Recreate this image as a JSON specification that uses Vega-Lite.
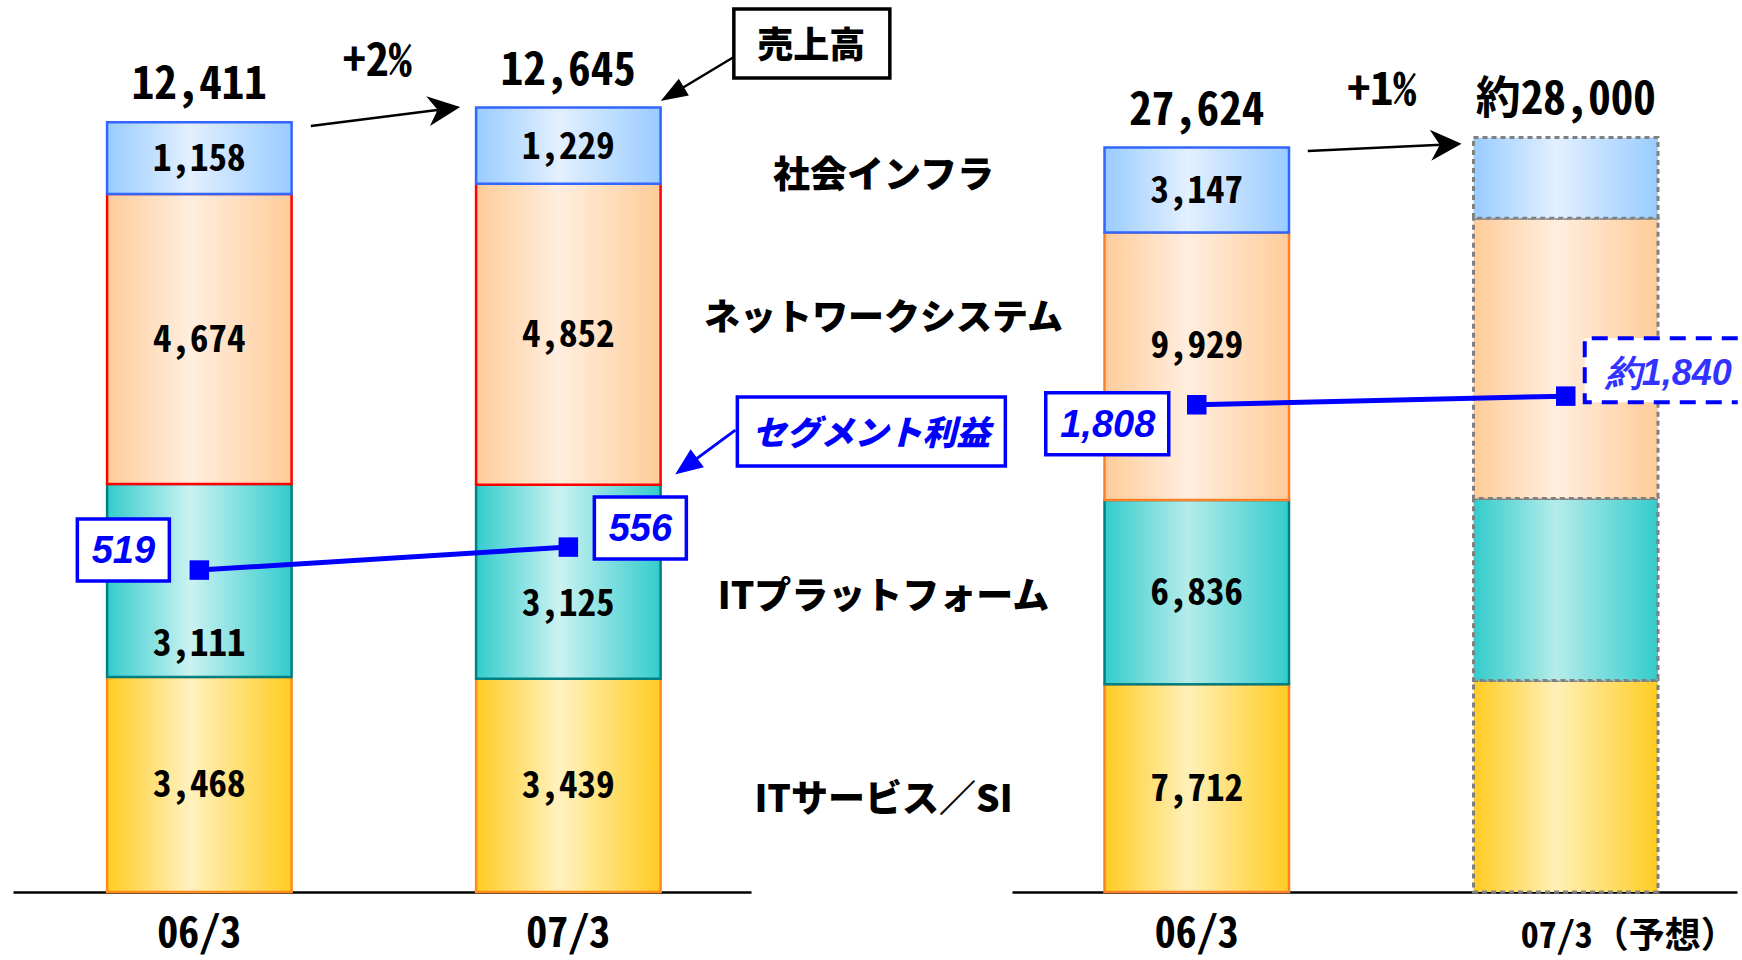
{
  "$schema": "https://vega.github.io/schema/vega-lite/v6.json",
  "background": "#ffffff",
  "padding": {"left": 13, "top": 0, "right": 0, "bottom": 5},
  "spacing": 0,
  "bounds": "flush",
  "config": {
    "view": {"stroke": null},
    "axisX": {
      "domainColor": "#000000",
      "domainWidth": 2.5,
      "ticks": false,
      "tickSize": 0,
      "grid": false,
      "labelAngle": 0,
      "labelFont": "Noto Sans Mono CJK JP, Noto Sans CJK JP, sans-serif",
      "labelFontSize": 42,
      "labelFontWeight": "bold",
      "labelColor": "#000000",
      "labelPadding": 63,
      "labelBaseline": "bottom",
      "labelOverlap": false,
      "labelLimit": 0
    }
  },
  "datasets": {
    "sales_h": [
      {"period": "06/3", "seg": "ITサービス／SI", "value": 3468},
      {"period": "06/3", "seg": "ITプラットフォーム", "value": 3111},
      {"period": "06/3", "seg": "ネットワークシステム", "value": 4674},
      {"period": "06/3", "seg": "社会インフラ", "value": 1158},
      {"period": "07/3", "seg": "ITサービス／SI", "value": 3439},
      {"period": "07/3", "seg": "ITプラットフォーム", "value": 3125},
      {"period": "07/3", "seg": "ネットワークシステム", "value": 4852},
      {"period": "07/3", "seg": "社会インフラ", "value": 1229}
    ],
    "total_h": [
      {"period": "06/3", "total": 12411, "label": "12,411", "growth": "+2%"},
      {"period": "07/3", "total": 12645, "label": "12,645", "callout": "売上高"}
    ],
    "profit_h": [
      {"period": "06/3", "profit": 519, "label": "519"},
      {"period": "07/3", "profit": 556, "label": "556", "callout": "セグメント利益"}
    ],
    "sales_y": [
      {"period": "06/3", "seg": "ITサービス／SI", "value": 7712},
      {"period": "06/3", "seg": "ITプラットフォーム", "value": 6836},
      {"period": "06/3", "seg": "ネットワークシステム", "value": 9929},
      {"period": "06/3", "seg": "社会インフラ", "value": 3147},
      {"period": "07/3（予想）", "seg": "ITサービス／SI", "value": 7850},
      {"period": "07/3（予想）", "seg": "ITプラットフォーム", "value": 6750},
      {"period": "07/3（予想）", "seg": "ネットワークシステム", "value": 10400},
      {"period": "07/3（予想）", "seg": "社会インフラ", "value": 3000}
    ],
    "total_y": [
      {"period": "06/3", "total": 27624, "label": "27,624", "growth": "+1%"},
      {"period": "07/3（予想）", "total": 28000, "label": "約28,000"}
    ],
    "profit_y": [
      {"period": "06/3", "profit": 1808, "label": "1,808"},
      {"period": "07/3（予想）", "profit": 1840, "label": "約1,840"}
    ]
  },
  "hconcat": [
    {
      "width": 738,
      "height": 892,
      "encoding": {
        "x": {
          "field": "period", "type": "nominal", "title": null,
          "scale": {"paddingInner": 0.5, "paddingOuter": 0.25, "align": 0.51}
        }
      },
      "resolve": {"scale": {"y": "independent"}},
      "layer": [
        {
          "data": {"name": "sales_h"},
          "transform": [
            {"stack": "value", "groupby": ["period"], "sort": [{"field": "seg", "order": "ascending"}], "as": ["v0", "v1"]}
          ],
          "mark": {"type": "bar", "strokeWidth": 2.5},
          "encoding": {
            "y": {"field": "v1", "type": "quantitative", "scale": {"domain": [0, 14380], "nice": false}, "axis": null},
            "y2": {"field": "v0"},
            "fill": {
              "condition": [
                {"test": "datum.seg === '社会インフラ'", "value": {"gradient": "linear", "x1": 0, "y1": 0, "x2": 1, "y2": 0, "stops": [{"offset": 0, "color": "#99CCFF"}, {"offset": 0.45, "color": "#E3F0FF"}, {"offset": 1, "color": "#99CCFF"}]}},
                {"test": "datum.seg === 'ネットワークシステム'", "value": {"gradient": "linear", "x1": 0, "y1": 0, "x2": 1, "y2": 0, "stops": [{"offset": 0, "color": "#FFCC99"}, {"offset": 0.45, "color": "#FFEEDF"}, {"offset": 1, "color": "#FFCC99"}]}},
                {"test": "datum.seg === 'ITプラットフォーム'", "value": {"gradient": "linear", "x1": 0, "y1": 0, "x2": 1, "y2": 0, "stops": [{"offset": 0, "color": "#33CCCC"}, {"offset": 0.45, "color": "#CCF2F2"}, {"offset": 1, "color": "#33CCCC"}]}}
              ],
              "value": {"gradient": "linear", "x1": 0, "y1": 0, "x2": 1, "y2": 0, "stops": [{"offset": 0, "color": "#FFCC22"}, {"offset": 0.45, "color": "#FFF2C0"}, {"offset": 1, "color": "#FFCC22"}]}
            },
            "stroke": {
              "condition": [
                {"test": "datum.seg === '社会インフラ'", "value": "#3366FF"},
                {"test": "datum.seg === 'ネットワークシステム'", "value": "#FF0000"},
                {"test": "datum.seg === 'ITプラットフォーム'", "value": "#008080"}
              ],
              "value": "#FF8C1A"
            }
          }
        },
        {
          "data": {"name": "sales_h"},
          "transform": [
            {"stack": "value", "groupby": ["period"], "sort": [{"field": "seg", "order": "ascending"}], "as": ["v0", "v1"]},
            {"calculate": "(datum.v0 + datum.v1) / 2", "as": "mid"},
            {"filter": "datum.seg !== 'ITプラットフォーム'"}
          ],
          "mark": {"type": "text", "font": "Noto Sans Mono CJK JP, Noto Sans CJK JP, sans-serif", "fontSize": 37, "fontWeight": "bold", "color": "#000000", "baseline": "middle", "dy": 2},
          "encoding": {
            "y": {"field": "mid", "type": "quantitative", "scale": {"domain": [0, 14380], "nice": false}, "axis": null},
            "text": {"field": "value", "type": "quantitative", "format": ","}
          }
        },
        {
          "data": {"name": "sales_h"},
          "transform": [
            {"stack": "value", "groupby": ["period"], "sort": [{"field": "seg", "order": "ascending"}], "as": ["v0", "v1"]},
            {"calculate": "(datum.v0 + datum.v1) / 2", "as": "mid"},
            {"filter": "datum.seg === 'ITプラットフォーム' && datum.period === '06/3'"}
          ],
          "mark": {"type": "text", "font": "Noto Sans Mono CJK JP, Noto Sans CJK JP, sans-serif", "fontSize": 37, "fontWeight": "bold", "color": "#000000", "baseline": "middle", "dy": 65},
          "encoding": {
            "y": {"field": "mid", "type": "quantitative", "scale": {"domain": [0, 14380], "nice": false}, "axis": null},
            "text": {"field": "value", "type": "quantitative", "format": ","}
          }
        },
        {
          "data": {"name": "sales_h"},
          "transform": [
            {"stack": "value", "groupby": ["period"], "sort": [{"field": "seg", "order": "ascending"}], "as": ["v0", "v1"]},
            {"calculate": "(datum.v0 + datum.v1) / 2", "as": "mid"},
            {"filter": "datum.seg === 'ITプラットフォーム' && datum.period === '07/3'"}
          ],
          "mark": {"type": "text", "font": "Noto Sans Mono CJK JP, Noto Sans CJK JP, sans-serif", "fontSize": 37, "fontWeight": "bold", "color": "#000000", "baseline": "middle", "dy": 23},
          "encoding": {
            "y": {"field": "mid", "type": "quantitative", "scale": {"domain": [0, 14380], "nice": false}, "axis": null},
            "text": {"field": "value", "type": "quantitative", "format": ","}
          }
        },
        {
          "data": {"name": "profit_h"},
          "mark": {"type": "line", "color": "#0000FF", "strokeWidth": 5},
          "encoding": {
            "y": {"field": "profit", "type": "quantitative", "scale": {"domain": [0, 1438], "nice": false}, "axis": null}
          }
        },
        {
          "data": {"name": "profit_h"},
          "mark": {"type": "point", "size": 40000, "filled": true, "fill": "#ffffff", "stroke": "#0000FF", "strokeWidth": 3.5, "opacity": 1},
          "encoding": {
            "y": {"field": "profit", "type": "quantitative", "scale": {"domain": [0, 1438], "nice": false}, "axis": null},
            "shape": {
              "condition": {"test": "datum.period === '06/3'", "value": "M-1.22,-0.51L-0.30,-0.51L-0.30,0.11L-1.22,0.11Z"},
              "value": "M0.26,-0.50L1.18,-0.50L1.18,0.12L0.26,0.12Z"
            }
          }
        },
        {
          "data": {"name": "profit_h"},
          "mark": {"type": "square", "size": 380, "color": "#0000FF", "filled": true, "opacity": 1},
          "encoding": {
            "y": {"field": "profit", "type": "quantitative", "scale": {"domain": [0, 1438], "nice": false}, "axis": null}
          }
        },
        {
          "data": {"name": "profit_h"},
          "transform": [{"filter": "datum.period === '06/3'"}],
          "mark": {"type": "text", "font": "Liberation Sans", "fontSize": 38, "fontWeight": "bold", "fontStyle": "italic", "color": "#0000FF", "baseline": "middle", "dx": -76, "dy": -18},
          "encoding": {
            "y": {"field": "profit", "type": "quantitative", "scale": {"domain": [0, 1438], "nice": false}, "axis": null},
            "text": {"field": "label"}
          }
        },
        {
          "data": {"name": "profit_h"},
          "transform": [{"filter": "datum.period === '07/3'"}],
          "mark": {"type": "text", "font": "Liberation Sans", "fontSize": 38, "fontWeight": "bold", "fontStyle": "italic", "color": "#0000FF", "baseline": "middle", "dx": 72, "dy": -17},
          "encoding": {
            "y": {"field": "profit", "type": "quantitative", "scale": {"domain": [0, 1438], "nice": false}, "axis": null},
            "text": {"field": "label"}
          }
        },
        {
          "data": {"name": "total_h"},
          "mark": {"type": "text", "font": "Noto Sans Mono CJK JP, Noto Sans CJK JP, sans-serif", "fontSize": 45, "fontWeight": "bold", "color": "#000000", "baseline": "middle", "dy": -37},
          "encoding": {
            "y": {"field": "total", "type": "quantitative", "scale": {"domain": [0, 14380], "nice": false}, "axis": null},
            "text": {"field": "label"}
          }
        },
        {
          "data": {"name": "total_h"},
          "transform": [{"filter": "datum.growth"}],
          "mark": {"type": "text", "font": "Noto Sans Mono CJK JP, Noto Sans CJK JP, sans-serif", "fontSize": 46, "fontWeight": "bold", "color": "#000000", "baseline": "middle", "dx": 178, "dy": -60},
          "encoding": {
            "y": {"field": "total", "type": "quantitative", "scale": {"domain": [0, 14380], "nice": false}, "axis": null},
            "text": {"field": "growth"}
          }
        },
        {
          "data": {"name": "total_h"},
          "transform": [{"filter": "datum.growth"}],
          "mark": {"type": "point", "size": 40000, "filled": true, "fill": "#000000", "stroke": "#000000", "strokeWidth": 2.5, "opacity": 1, "shape": "M1.115,0.039L2.398,-0.125M2.579,-0.148L2.336,0.004L2.398,-0.125L2.306,-0.234Z"},
          "encoding": {
            "y": {"field": "total", "type": "quantitative", "scale": {"domain": [0, 14380], "nice": false}, "axis": null}
          }
        },
        {
          "data": {"name": "total_h"},
          "transform": [{"filter": "datum.callout"}],
          "mark": {"type": "point", "size": 40000, "filled": true, "fill": "#ffffff", "stroke": "#000000", "strokeWidth": 3.5, "opacity": 1, "shape": "M1.655,-0.986L3.215,-0.986L3.215,-0.296L1.655,-0.296Z"},
          "encoding": {
            "y": {"field": "total", "type": "quantitative", "scale": {"domain": [0, 14380], "nice": false}, "axis": null}
          }
        },
        {
          "data": {"name": "total_h"},
          "transform": [{"filter": "datum.callout"}],
          "mark": {"type": "text", "font": "Noto Sans CJK JP", "fontSize": 36, "fontWeight": 900, "color": "#000000", "baseline": "middle", "dx": 243, "dy": -61},
          "encoding": {
            "y": {"field": "total", "type": "quantitative", "scale": {"domain": [0, 14380], "nice": false}, "axis": null},
            "text": {"field": "callout"}
          }
        },
        {
          "data": {"name": "total_h"},
          "transform": [{"filter": "datum.callout"}],
          "mark": {"type": "point", "size": 40000, "filled": true, "fill": "#000000", "stroke": "#000000", "strokeWidth": 2.5, "opacity": 1, "shape": "M1.655,-0.506L1.144,-0.199M0.955,-0.086L1.185,-0.130L1.103,-0.268Z"},
          "encoding": {
            "y": {"field": "total", "type": "quantitative", "scale": {"domain": [0, 14380], "nice": false}, "axis": null}
          }
        },
        {
          "data": {"name": "profit_h"},
          "transform": [{"filter": "datum.callout"}],
          "mark": {"type": "point", "size": 40000, "filled": true, "fill": "#ffffff", "stroke": "#0000FF", "strokeWidth": 3.5, "opacity": 1, "shape": "M1.69,-1.50L4.37,-1.50L4.37,-0.81L1.69,-0.81Z"},
          "encoding": {
            "y": {"field": "profit", "type": "quantitative", "scale": {"domain": [0, 1438], "nice": false}, "axis": null}
          }
        },
        {
          "data": {"name": "profit_h"},
          "transform": [{"filter": "datum.callout"}],
          "mark": {"type": "text", "font": "Noto Sans CJK JP", "fontSize": 34, "fontWeight": 900, "fontStyle": "italic", "color": "#0000FF", "baseline": "middle", "dx": 303, "dy": -112},
          "encoding": {
            "y": {"field": "profit", "type": "quantitative", "scale": {"domain": [0, 1438], "nice": false}, "axis": null},
            "text": {"field": "callout"}
          }
        },
        {
          "data": {"name": "profit_h"},
          "transform": [{"filter": "datum.callout"}],
          "mark": {"type": "point", "size": 40000, "filled": true, "fill": "#0000FF", "stroke": "#0000FF", "strokeWidth": 3, "opacity": 1, "shape": "M1.67,-1.17L1.277,-0.88M1.10,-0.75L1.33,-0.808L1.224,-0.952Z"},
          "encoding": {
            "y": {"field": "profit", "type": "quantitative", "scale": {"domain": [0, 1438], "nice": false}, "axis": null}
          }
        }
      ]
    },
    {
      "width": 261,
      "height": 892,
      "data": {"name": "sales_h"},
      "transform": [
        {"filter": "datum.period === '07/3'"},
        {"stack": "value", "groupby": ["period"], "sort": [{"field": "seg", "order": "ascending"}], "as": ["v0", "v1"]},
        {"calculate": "(datum.v0 + datum.v1) / 2", "as": "mid"}
      ],
      "encoding": {
        "y": {"field": "mid", "type": "quantitative", "scale": {"domain": [0, 14380], "nice": false}, "axis": null},
        "text": {"field": "seg"}
      },
      "layer": [
        {
          "transform": [{"filter": "datum.seg === '社会インフラ'"}],
          "mark": {"type": "text", "font": "Noto Sans CJK JP", "fontSize": 37, "fontWeight": 900, "color": "#000000", "baseline": "middle", "dx": 2, "dy": 31}
        },
        {
          "transform": [{"filter": "datum.seg === 'ネットワークシステム'"}],
          "mark": {"type": "text", "font": "Noto Sans CJK JP", "fontSize": 36, "fontWeight": 900, "color": "#000000", "baseline": "middle", "dx": 2, "dy": -15}
        },
        {
          "transform": [{"filter": "datum.seg === 'ITプラットフォーム' || datum.seg === 'ITサービス／SI'"}],
          "mark": {"type": "text", "font": "Noto Sans CJK JP", "fontSize": 37, "fontWeight": 900, "color": "#000000", "baseline": "middle", "dx": 2, "dy": 16}
        }
      ]
    },
    {
      "width": 725,
      "height": 892,
      "encoding": {
        "x": {
          "field": "period", "type": "nominal", "title": null,
          "scale": {"paddingInner": 0.5, "paddingOuter": 0.2324, "align": 0.5394},
          "axis": {
            "labelAlign": {"condition": {"test": "datum.value === '07/3（予想）'", "value": "left"}, "value": "center"},
            "labelOffset": {"condition": {"test": "datum.value === '07/3（予想）'", "value": -45}, "value": 0},
            "labelFontSize": {"condition": {"test": "datum.value === '07/3（予想）'", "value": 36}, "value": 42}
          }
        }
      },
      "resolve": {"scale": {"y": "independent"}},
      "layer": [
        {
          "data": {"name": "sales_y"},
          "transform": [
            {"stack": "value", "groupby": ["period"], "sort": [{"field": "seg", "order": "ascending"}], "as": ["v0", "v1"]}
          ],
          "mark": {"type": "bar"},
          "encoding": {
            "y": {"field": "v1", "type": "quantitative", "scale": {"domain": [0, 33100], "nice": false}, "axis": null},
            "y2": {"field": "v0"},
            "fill": {
              "condition": [
                {"test": "datum.seg === '社会インフラ'", "value": {"gradient": "linear", "x1": 0, "y1": 0, "x2": 1, "y2": 0, "stops": [{"offset": 0, "color": "#99CCFF"}, {"offset": 0.45, "color": "#E3F0FF"}, {"offset": 1, "color": "#99CCFF"}]}},
                {"test": "datum.seg === 'ネットワークシステム'", "value": {"gradient": "linear", "x1": 0, "y1": 0, "x2": 1, "y2": 0, "stops": [{"offset": 0, "color": "#FFCC99"}, {"offset": 0.45, "color": "#FFEEDF"}, {"offset": 1, "color": "#FFCC99"}]}},
                {"test": "datum.seg === 'ITプラットフォーム'", "value": {"gradient": "linear", "x1": 0, "y1": 0, "x2": 1, "y2": 0, "stops": [{"offset": 0, "color": "#33CCCC"}, {"offset": 0.45, "color": "#B5ECEA"}, {"offset": 1, "color": "#33CCCC"}]}}
              ],
              "value": {"gradient": "linear", "x1": 0, "y1": 0, "x2": 1, "y2": 0, "stops": [{"offset": 0, "color": "#FFCC22"}, {"offset": 0.45, "color": "#FFF0B8"}, {"offset": 1, "color": "#FFCC22"}]}
            },
            "stroke": {
              "condition": [
                {"test": "datum.period === '07/3（予想）'", "value": "#808080"},
                {"test": "datum.seg === '社会インフラ'", "value": "#3366FF"},
                {"test": "datum.seg === 'ネットワークシステム'", "value": "#FF7F27"},
                {"test": "datum.seg === 'ITプラットフォーム'", "value": "#008080"}
              ],
              "value": "#FF7F27"
            },
            "strokeWidth": {"condition": {"test": "datum.period === '07/3（予想）'", "value": 3}, "value": 2.5},
            "strokeDash": {"condition": {"test": "datum.period === '07/3（予想）'", "value": [5, 4]}, "value": []}
          }
        },
        {
          "data": {"name": "sales_y"},
          "transform": [
            {"stack": "value", "groupby": ["period"], "sort": [{"field": "seg", "order": "ascending"}], "as": ["v0", "v1"]},
            {"calculate": "(datum.v0 + datum.v1) / 2", "as": "mid"},
            {"filter": "datum.period === '06/3' && datum.seg !== 'ネットワークシステム'"}
          ],
          "mark": {"type": "text", "font": "Noto Sans Mono CJK JP, Noto Sans CJK JP, sans-serif", "fontSize": 37, "fontWeight": "bold", "color": "#000000", "baseline": "middle", "dy": 2},
          "encoding": {
            "y": {"field": "mid", "type": "quantitative", "scale": {"domain": [0, 33100], "nice": false}, "axis": null},
            "text": {"field": "value", "type": "quantitative", "format": ","}
          }
        },
        {
          "data": {"name": "sales_y"},
          "transform": [
            {"stack": "value", "groupby": ["period"], "sort": [{"field": "seg", "order": "ascending"}], "as": ["v0", "v1"]},
            {"calculate": "(datum.v0 + datum.v1) / 2", "as": "mid"},
            {"filter": "datum.period === '06/3' && datum.seg === 'ネットワークシステム'"}
          ],
          "mark": {"type": "text", "font": "Noto Sans Mono CJK JP, Noto Sans CJK JP, sans-serif", "fontSize": 37, "fontWeight": "bold", "color": "#000000", "baseline": "middle", "dy": -19},
          "encoding": {
            "y": {"field": "mid", "type": "quantitative", "scale": {"domain": [0, 33100], "nice": false}, "axis": null},
            "text": {"field": "value", "type": "quantitative", "format": ","}
          }
        },
        {
          "data": {"name": "profit_y"},
          "mark": {"type": "line", "color": "#0000FF", "strokeWidth": 5},
          "encoding": {
            "y": {"field": "profit", "type": "quantitative", "scale": {"domain": [0, 3310], "nice": false}, "axis": null}
          }
        },
        {
          "data": {"name": "profit_y"},
          "transform": [{"filter": "datum.period === '06/3'"}],
          "mark": {"type": "point", "size": 40000, "filled": true, "fill": "#ffffff", "stroke": "#0000FF", "strokeWidth": 3.5, "opacity": 1, "shape": "M-1.51,-0.12L-0.28,-0.12L-0.28,0.50L-1.51,0.50Z"},
          "encoding": {
            "y": {"field": "profit", "type": "quantitative", "scale": {"domain": [0, 3310], "nice": false}, "axis": null}
          }
        },
        {
          "data": {"name": "profit_y"},
          "transform": [{"filter": "datum.period === '07/3（予想）'"}],
          "mark": {"type": "point", "size": 40000, "filled": true, "fill": "#ffffff", "stroke": "#0000FF", "strokeWidth": 4, "strokeDash": [16, 10], "opacity": 1, "shape": "M1.72,-0.58L0.19,-0.58L0.19,0.06L1.72,0.06"},
          "encoding": {
            "y": {"field": "profit", "type": "quantitative", "scale": {"domain": [0, 3310], "nice": false}, "axis": null}
          }
        },
        {
          "data": {"name": "profit_y"},
          "mark": {"type": "square", "size": 380, "color": "#0000FF", "filled": true, "opacity": 1},
          "encoding": {
            "y": {"field": "profit", "type": "quantitative", "scale": {"domain": [0, 3310], "nice": false}, "axis": null}
          }
        },
        {
          "data": {"name": "profit_y"},
          "transform": [{"filter": "datum.period === '06/3'"}],
          "mark": {"type": "text", "font": "Liberation Sans", "fontSize": 38, "fontWeight": "bold", "fontStyle": "italic", "color": "#0000FF", "baseline": "middle", "dx": -89, "dy": 21},
          "encoding": {
            "y": {"field": "profit", "type": "quantitative", "scale": {"domain": [0, 3310], "nice": false}, "axis": null},
            "text": {"field": "label"}
          }
        },
        {
          "data": {"name": "profit_y"},
          "transform": [{"filter": "datum.period === '07/3（予想）'"}],
          "mark": {"type": "text", "font": "Liberation Sans", "fontSize": 36, "fontWeight": "bold", "fontStyle": "italic", "color": "#3333FF", "baseline": "middle", "dx": 103, "dy": -22},
          "encoding": {
            "y": {"field": "profit", "type": "quantitative", "scale": {"domain": [0, 3310], "nice": false}, "axis": null},
            "text": {"field": "label"}
          }
        },
        {
          "data": {"name": "total_y"},
          "mark": {"type": "text", "font": "Noto Sans Mono CJK JP, Noto Sans CJK JP, sans-serif", "fontSize": 45, "fontWeight": "bold", "color": "#000000", "baseline": "middle", "dy": -37},
          "encoding": {
            "y": {"field": "total", "type": "quantitative", "scale": {"domain": [0, 33100], "nice": false}, "axis": null},
            "text": {"field": "label"}
          }
        },
        {
          "data": {"name": "total_y"},
          "transform": [{"filter": "datum.growth"}],
          "mark": {"type": "text", "font": "Noto Sans Mono CJK JP, Noto Sans CJK JP, sans-serif", "fontSize": 46, "fontWeight": "bold", "color": "#000000", "baseline": "middle", "dx": 185, "dy": -57},
          "encoding": {
            "y": {"field": "total", "type": "quantitative", "scale": {"domain": [0, 33100], "nice": false}, "axis": null},
            "text": {"field": "growth"}
          }
        },
        {
          "data": {"name": "total_y"},
          "transform": [{"filter": "datum.growth"}],
          "mark": {"type": "point", "size": 40000, "filled": true, "fill": "#000000", "stroke": "#000000", "strokeWidth": 2.5, "opacity": 1, "shape": "M1.11,0.034L2.445,-0.028M2.62,-0.036L2.376,0.1005L2.445,-0.028L2.364,-0.1495Z"},
          "encoding": {
            "y": {"field": "total", "type": "quantitative", "scale": {"domain": [0, 33100], "nice": false}, "axis": null}
          }
        }
      ]
    }
  ]
}
